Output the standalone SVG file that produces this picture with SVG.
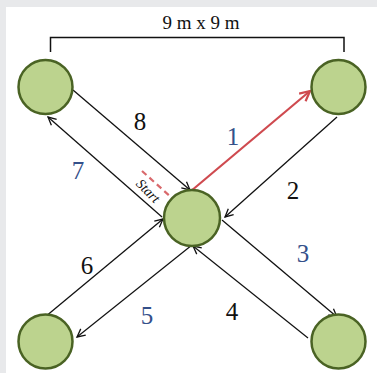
<svg xmlns="http://www.w3.org/2000/svg" width="377" height="373" viewBox="0 0 377 373">
<style>
.node{fill:#bcd38e;stroke:#4a6324;stroke-width:2.5}
.edge{stroke:#111;stroke-width:1.3;fill:none}
.red{stroke:#cf4a4f;stroke-width:2.2;fill:none}
.blue{fill:#34508a}
.blk{fill:#111}
</style>
<defs>
<marker id="ah" markerWidth="12" markerHeight="12" refX="9" refY="5" orient="auto" markerUnits="userSpaceOnUse">
<path d="M1,1 L9,5 L1,9" fill="none" stroke="#111" stroke-width="1.3"/>
</marker>
<marker id="ahr" markerWidth="14" markerHeight="14" refX="11" refY="6" orient="auto" markerUnits="userSpaceOnUse">
<path d="M1,1 L11,6 L1,11" fill="none" stroke="#cf4a4f" stroke-width="2.2"/>
</marker>
</defs>
<rect x="0" y="0" width="377" height="373" fill="#e8e9eb"/>
<rect x="6" y="7" width="371" height="366" fill="#ffffff"/>
<g id="dimension">
<path d="M50.5,52 V37.5 H344 V52" fill="none" stroke="#111" stroke-width="1.5"/>
<text x="201" y="29" font-family="Liberation Serif, serif" font-size="19" text-anchor="middle" fill="#111">9 m x 9 m</text>
</g>
<g id="connectors">
<line class="edge" x1="73" y1="90" x2="190" y2="190" marker-end="url(#ah)"/>
<line class="edge" x1="162" y1="217" x2="48" y2="117" marker-end="url(#ah)"/>
<line class="red" x1="191" y1="191" x2="310" y2="91" marker-end="url(#ahr)"/>
<line class="edge" x1="337" y1="117" x2="225" y2="217" marker-end="url(#ah)"/>
<line class="edge" x1="222" y1="220" x2="337" y2="317" marker-end="url(#ah)"/>
<line class="edge" x1="308" y1="338" x2="193" y2="246" marker-end="url(#ah)"/>
<line class="edge" x1="192" y1="245" x2="77" y2="337" marker-end="url(#ah)"/>
<line class="edge" x1="45" y1="317" x2="163" y2="219" marker-end="url(#ah)"/>
<line x1="142" y1="171" x2="172" y2="198" stroke="#d9696c" stroke-width="2.2" stroke-dasharray="6,4"/>
</g>
<g id="n-tl"><circle class="node" cx="45.5" cy="87" r="27"/></g>
<g id="n-tr"><circle class="node" cx="338.5" cy="87" r="27"/></g>
<g id="n-c"><circle class="node" cx="192" cy="218" r="28"/></g>
<g id="n-bl"><circle class="node" cx="45.5" cy="341.5" r="27"/></g>
<g id="n-br"><circle class="node" cx="338.5" cy="341.5" r="27"/></g>
<g id="labels" font-family="Liberation Serif, serif" font-size="25" text-anchor="middle">
<text class="blk" x="140" y="130">8</text>
<text class="blue" x="233" y="144.5">1</text>
<text class="blk" x="293" y="198.5">2</text>
<text class="blue" x="78" y="178.5">7</text>
<text class="blk" x="87" y="273.5">6</text>
<text class="blue" x="147" y="323.5">5</text>
<text class="blue" x="303" y="261.5">3</text>
<text class="blk" x="232" y="320">4</text>
<text x="0" y="0" transform="translate(148,191) rotate(45)" font-style="italic" font-size="14" dominant-baseline="central" fill="#111">Start</text>
</g>
</svg>
